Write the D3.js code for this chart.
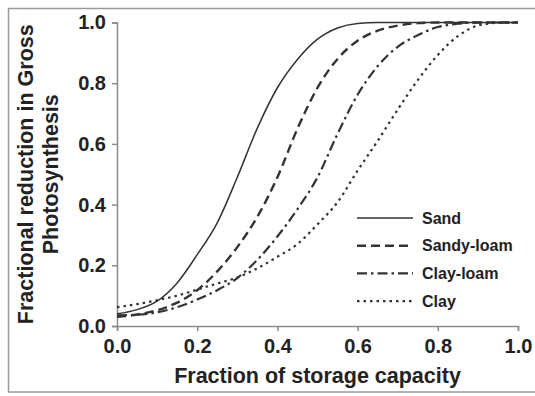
<!DOCTYPE html>
<html>
<head>
<meta charset="utf-8">
<script src="https://cdn.jsdelivr.net/npm/d3@7"></script>
<style>
  body { margin: 0; background: #fff; }
  svg { display: block; }
  svg text { font-family: "Liberation Sans", Arial, sans-serif; font-weight: bold; fill: #222; }
</style>
</head>
<body>
<svg id="chart" width="535" height="396"></svg>
<script>
// fraction of storage capacity
const fractions = [0, 0.05, 0.1, 0.15, 0.2, 0.25, 0.3, 0.35, 0.4, 0.45, 0.5,
  0.55, 0.6, 0.65, 0.7, 0.75, 0.8, 0.85, 0.9, 0.95, 1];

const sand = [0.04, 0.054, 0.082, 0.142, 0.235, 0.34, 0.49, 0.652, 0.785, 0.878, 0.945,
  0.982, 0.997, 1, 1, 1, 1, 1, 1, 1, 1];
const sandyLoam = [0.03, 0.038, 0.052, 0.077, 0.118, 0.18, 0.26, 0.36, 0.49, 0.65, 0.785,
  0.88, 0.94, 0.973, 0.99, 0.998, 1, 1, 1, 1, 1];
const clayLoam = [0.035, 0.037, 0.045, 0.062, 0.087, 0.118, 0.158, 0.218, 0.295, 0.385, 0.49,
  0.633, 0.762, 0.856, 0.92, 0.958, 0.985, 0.996, 1, 1, 1];
const clay = [0.062, 0.072, 0.085, 0.1, 0.12, 0.14, 0.16, 0.19, 0.228, 0.27, 0.335,
  0.408, 0.512, 0.61, 0.713, 0.81, 0.893, 0.955, 0.99, 0.999, 1];

const seriesNames = ['Sand', 'Sandy-loam', 'Clay-loam', 'Clay'];
const tickValues = [0, 0.2, 0.4, 0.6, 0.8, 1.0];

const series = [
  { name: seriesNames[0], values: sand, dash: null, width: 1.5 },
  { name: seriesNames[1], values: sandyLoam, dash: '9,5', width: 2.4 },
  { name: seriesNames[2], values: clayLoam, dash: '10,4,2.5,4', width: 2.2 },
  { name: seriesNames[3], values: clay, dash: '2.5,4', width: 2.2 },
];

const width = 535;
const height = 396;
const margin = { top: 22.5, right: 17, bottom: 70, left: 117 };
const innerWidth = width - margin.left - margin.right;
const innerHeight = height - margin.top - margin.bottom;

const svg = d3.select('#chart');

// outer frame
svg.append('rect')
  .attr('x', 8.5)
  .attr('y', 8.5)
  .attr('width', 530)
  .attr('height', 383.5)
  .attr('fill', 'none')
  .attr('stroke', '#9a9a9a')
  .attr('stroke-width', 1.5);

const x = d3.scaleLinear().domain([0, 1]).range([0, innerWidth]);
const y = d3.scaleLinear().domain([0, 1]).range([innerHeight, 0]);

const root = svg.append('g')
  .attr('transform', `translate(${margin.left}, ${margin.top})`);

const axisColor = '#8a8a8a';

root.append('g')
  .call(d3.axisLeft(y).tickValues(tickValues).tickSize(5).tickPadding(6)
    .tickFormat(d3.format('.1f')))
  .attr('font-family', null)
  .attr('font-size', 20)
  .call((g) => g.selectAll('text').attr('fill', null))
  .call((g) => g.selectAll('line, path').attr('stroke', axisColor).attr('stroke-width', 1.5));

root.append('g')
  .attr('transform', `translate(0, ${innerHeight})`)
  .call(d3.axisBottom(x).tickValues(tickValues).tickSize(5).tickPadding(8)
    .tickFormat(d3.format('.1f')))
  .attr('font-family', null)
  .attr('font-size', 20)
  .call((g) => g.selectAll('text').attr('fill', null))
  .call((g) => g.selectAll('line, path').attr('stroke', axisColor).attr('stroke-width', 1.5));

const line = d3.line()
  .x((d, i) => x(fractions[i]))
  .y((d) => y(d))
  .curve(d3.curveMonotoneX);

root.selectAll('.curve')
  .data(series)
  .enter()
  .append('path')
  .attr('class', 'curve')
  .attr('fill', 'none')
  .attr('stroke', '#333')
  .attr('stroke-width', (s) => s.width)
  .attr('stroke-dasharray', (s) => s.dash)
  .attr('d', (s) => line(s.values));

// legend
const legend = svg.append('g').attr('transform', 'translate(357, 218)');
const legendRows = legend.selectAll('g')
  .data(series)
  .enter()
  .append('g')
  .attr('transform', (s, i) => `translate(0, ${i * 27.7})`);

legendRows.append('line')
  .attr('x1', 0).attr('x2', 56)
  .attr('stroke', '#333')
  .attr('stroke-width', (s) => s.width)
  .attr('stroke-dasharray', (s) => s.dash);

legendRows.append('text')
  .attr('x', 65)
  .attr('y', 5.5)
  .attr('font-size', 16)
  .text((s) => s.name);

// axis titles
svg.append('text')
  .attr('x', margin.left + innerWidth / 2)
  .attr('y', 383)
  .attr('text-anchor', 'middle')
  .attr('font-size', 21.5)
  .text('Fraction of storage capacity');

const yTitle = svg.append('text')
  .attr('transform', `translate(0, ${margin.top + innerHeight / 2}) rotate(-90)`)
  .attr('text-anchor', 'middle')
  .attr('font-size', 21.5);

yTitle.append('tspan').attr('x', 0).attr('y', 33).text('Fractional reduction in Gross');
yTitle.append('tspan').attr('x', 0).attr('y', 58).text('Photosynthesis');
</script>
</body>
</html>
